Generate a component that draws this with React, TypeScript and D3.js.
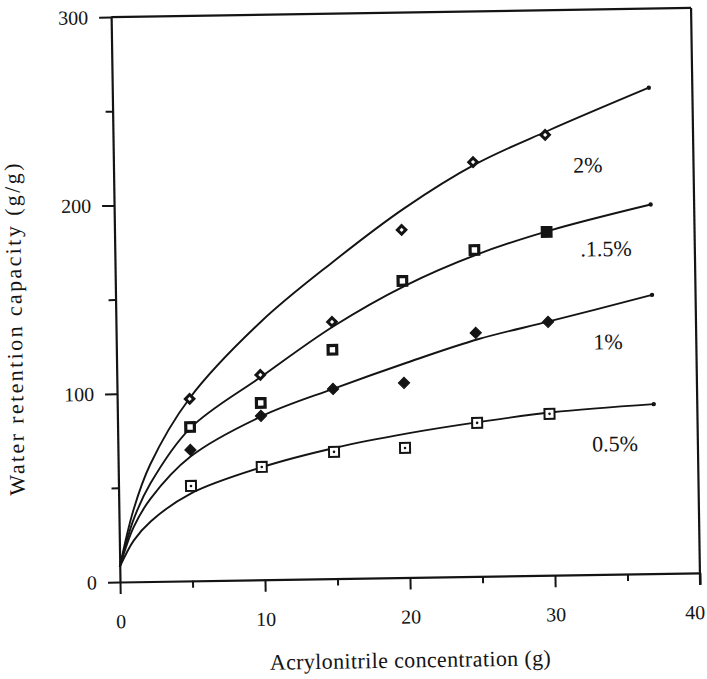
import React, { useRef, useEffect } from 'react';
import * as d3 from 'd3';

// acrylonitrile concentration (g) where the samples were measured
const concentration = [5, 9.9, 14.9, 19.8, 24.8, 29.8];

// measured water retention capacity (g/g), one array per crosslinker level
const measured2 = [96.6, 108.8, 136.3, 184.6, 220, 233.8];
const measured15 = [81.7, 93.9, 121.5, 157.5, 173.3, 182.3];
const measured1 = [69.5, 87, 100.7, 103.3, 129.3, 134.5];
const measured05 = [50.4, 59.9, 67.3, 68.8, 81.5, 85.7];

// fitted curves
const curveX = [0, 1, 2.2, 5, 10, 15, 20, 25, 30, 37];
const fit2 = [8, 38, 62, 97, 137, 168, 196, 219, 236, 258];
const fit15 = [8, 33, 52, 81, 108, 134, 155, 171, 183, 196];
const fit1 = [8, 29, 44, 66, 87, 101, 114, 126, 135, 148];
const fit05 = [8, 22, 32, 46.5, 60, 69.5, 76.5, 82, 86.5, 90];

const seriesLabels = ['2%', '.1.5%', '1%', '0.5%'];

const xTicks = [0, 10, 20, 30, 40];
const xMinorTicks = [5, 15, 25, 35];
const yTicks = [0, 100, 200, 300];
const yMinorTicks = [50, 150, 250];

const App = () => {
  const svgRef = useRef<SVGSVGElement>(null);

  useEffect(() => {
    const svg = d3.select(svgRef.current);
    svg.selectAll('*').remove();

    const ink = '#141414';
    const font = '"Liberation Serif", "Times New Roman", serif';

    const x = d3.scaleLinear().domain([0, 40]).range([120, 700]);
    const y = d3.scaleLinear().domain([0, 300]).range([582, 17]);

    // the scanned figure sits slightly tilted
    const g = svg.append('g').attr('transform', `rotate(-0.9 ${x(0)} ${y(0)})`);

    // axes
    const xAxis = g.append('g')
      .attr('transform', `translate(0,${y(0)})`)
      .call(d3.axisBottom(x).tickValues(xTicks).tickSize(12).tickSizeOuter(0).tickPadding(20).tickFormat(d3.format('d')));
    g.append('g')
      .attr('transform', `translate(0,${y(0)})`)
      .call(d3.axisBottom(x).tickValues(xMinorTicks).tickSize(7).tickFormat(() => ''))
      .call(a => a.select('.domain').remove());
    xAxis.selectAll('.tick text').filter(d => d === 40).attr('dx', -6);

    const yAxis = g.append('g')
      .attr('transform', `translate(${x(0)},0)`)
      .call(d3.axisLeft(y).tickValues(yTicks).tickSize(12).tickSizeOuter(0).tickPadding(11).tickFormat(d3.format('d')));
    g.append('g')
      .attr('transform', `translate(${x(0)},0)`)
      .call(d3.axisLeft(y).tickValues(yMinorTicks).tickSize(7).tickFormat(() => ''))
      .call(a => a.select('.domain').remove());

    g.selectAll('.tick line').attr('stroke', ink).attr('stroke-width', 2);
    g.selectAll('.domain').attr('stroke', ink).attr('stroke-width', 2.2);
    [xAxis, yAxis].forEach(a => a.attr('font-family', font).attr('font-size', 20));
    g.selectAll('.tick text').attr('fill', ink);

    // top and right frame
    g.append('line')
      .attr('x1', x(0)).attr('x2', x(40))
      .attr('y1', y(300)).attr('y2', y(300))
      .attr('stroke', ink).attr('stroke-width', 2.2);
    g.append('line')
      .attr('x1', x(40)).attr('x2', x(40))
      .attr('y1', y(300)).attr('y2', y(0) + 12)
      .attr('stroke', ink).attr('stroke-width', 2.2);

    // fitted curves
    const line = d3.line<number>()
      .x((_, i) => x(curveX[i]))
      .y(d => y(d))
      .curve(d3.curveCatmullRom.alpha(0.5));

    const fits = [fit2, fit15, fit1, fit05];
    fits.forEach(f => {
      g.append('path')
        .attr('d', line(f))
        .attr('fill', 'none')
        .attr('stroke', ink)
        .attr('stroke-width', 1.9);
      g.append('circle')
        .attr('cx', x(curveX[curveX.length - 1]))
        .attr('cy', y(f[f.length - 1]))
        .attr('r', 2.2)
        .attr('fill', ink);
    });

    const square = (s: number) => d3.symbol(d3.symbolSquare, s * s)();

    // 2%: open diamonds, heavy outline
    g.append('g').selectAll('path')
      .data(measured2)
      .enter().append('path')
      .attr('d', square(6))
      .attr('transform', (d, i) => `translate(${x(concentration[i])},${y(d)}) rotate(45)`)
      .attr('fill', '#fff').attr('stroke', ink).attr('stroke-width', 3);

    // 1.5%: heavy open squares (last one filled)
    g.append('g').selectAll('path')
      .data(measured15)
      .enter().append('path')
      .attr('d', square(8.6))
      .attr('transform', (d, i) => `translate(${x(concentration[i])},${y(d)})`)
      .attr('fill', (d, i) => (i === measured15.length - 1 ? ink : '#fff'))
      .attr('stroke', ink).attr('stroke-width', 3.2);

    // 1%: filled diamonds
    g.append('g').selectAll('path')
      .data(measured1)
      .enter().append('path')
      .attr('d', square(8))
      .attr('transform', (d, i) => `translate(${x(concentration[i])},${y(d)}) rotate(45)`)
      .attr('fill', ink).attr('stroke', ink).attr('stroke-width', 1);

    // 0.5%: dotted squares
    const dotted = g.append('g').selectAll('g')
      .data(measured05)
      .enter().append('g')
      .attr('transform', (d, i) => `translate(${x(concentration[i])},${y(d)})`);
    dotted.append('path')
      .attr('d', square(10))
      .attr('fill', '#fff').attr('stroke', ink).attr('stroke-width', 2);
    dotted.append('circle').attr('r', 1.3).attr('fill', ink);

    // series labels
    const labelAt = [[31.7, 213.5], [32.1, 168.9], [32.9, 119.5], [32.7, 65.3]];
    g.append('g').selectAll('text')
      .data(seriesLabels)
      .enter().append('text')
      .attr('x', (d, i) => x(labelAt[i][0]))
      .attr('y', (d, i) => y(labelAt[i][1]))
      .attr('font-family', font)
      .attr('font-size', 22)
      .attr('fill', ink)
      .text(d => d);

    // axis titles
    g.append('text')
      .attr('x', 409).attr('y', 672)
      .attr('text-anchor', 'middle')
      .attr('font-family', font).attr('font-size', 22)
      .attr('textLength', 281).attr('lengthAdjust', 'spacing')
      .attr('fill', ink)
      .text('Acrylonitrile concentration (g)');

    g.append('text')
      .attr('transform', 'translate(26,328) rotate(-90)')
      .attr('text-anchor', 'middle')
      .attr('font-family', font).attr('font-size', 22)
      .attr('textLength', 332).attr('lengthAdjust', 'spacing')
      .attr('fill', ink)
      .text('Water retention capacity (g/g)');
  }, []);

  return (
    <svg ref={svgRef} width={707} height={679}
      style={{ position: 'absolute', left: 0, top: 0, background: '#fff' }} />
  );
};

export default App;
